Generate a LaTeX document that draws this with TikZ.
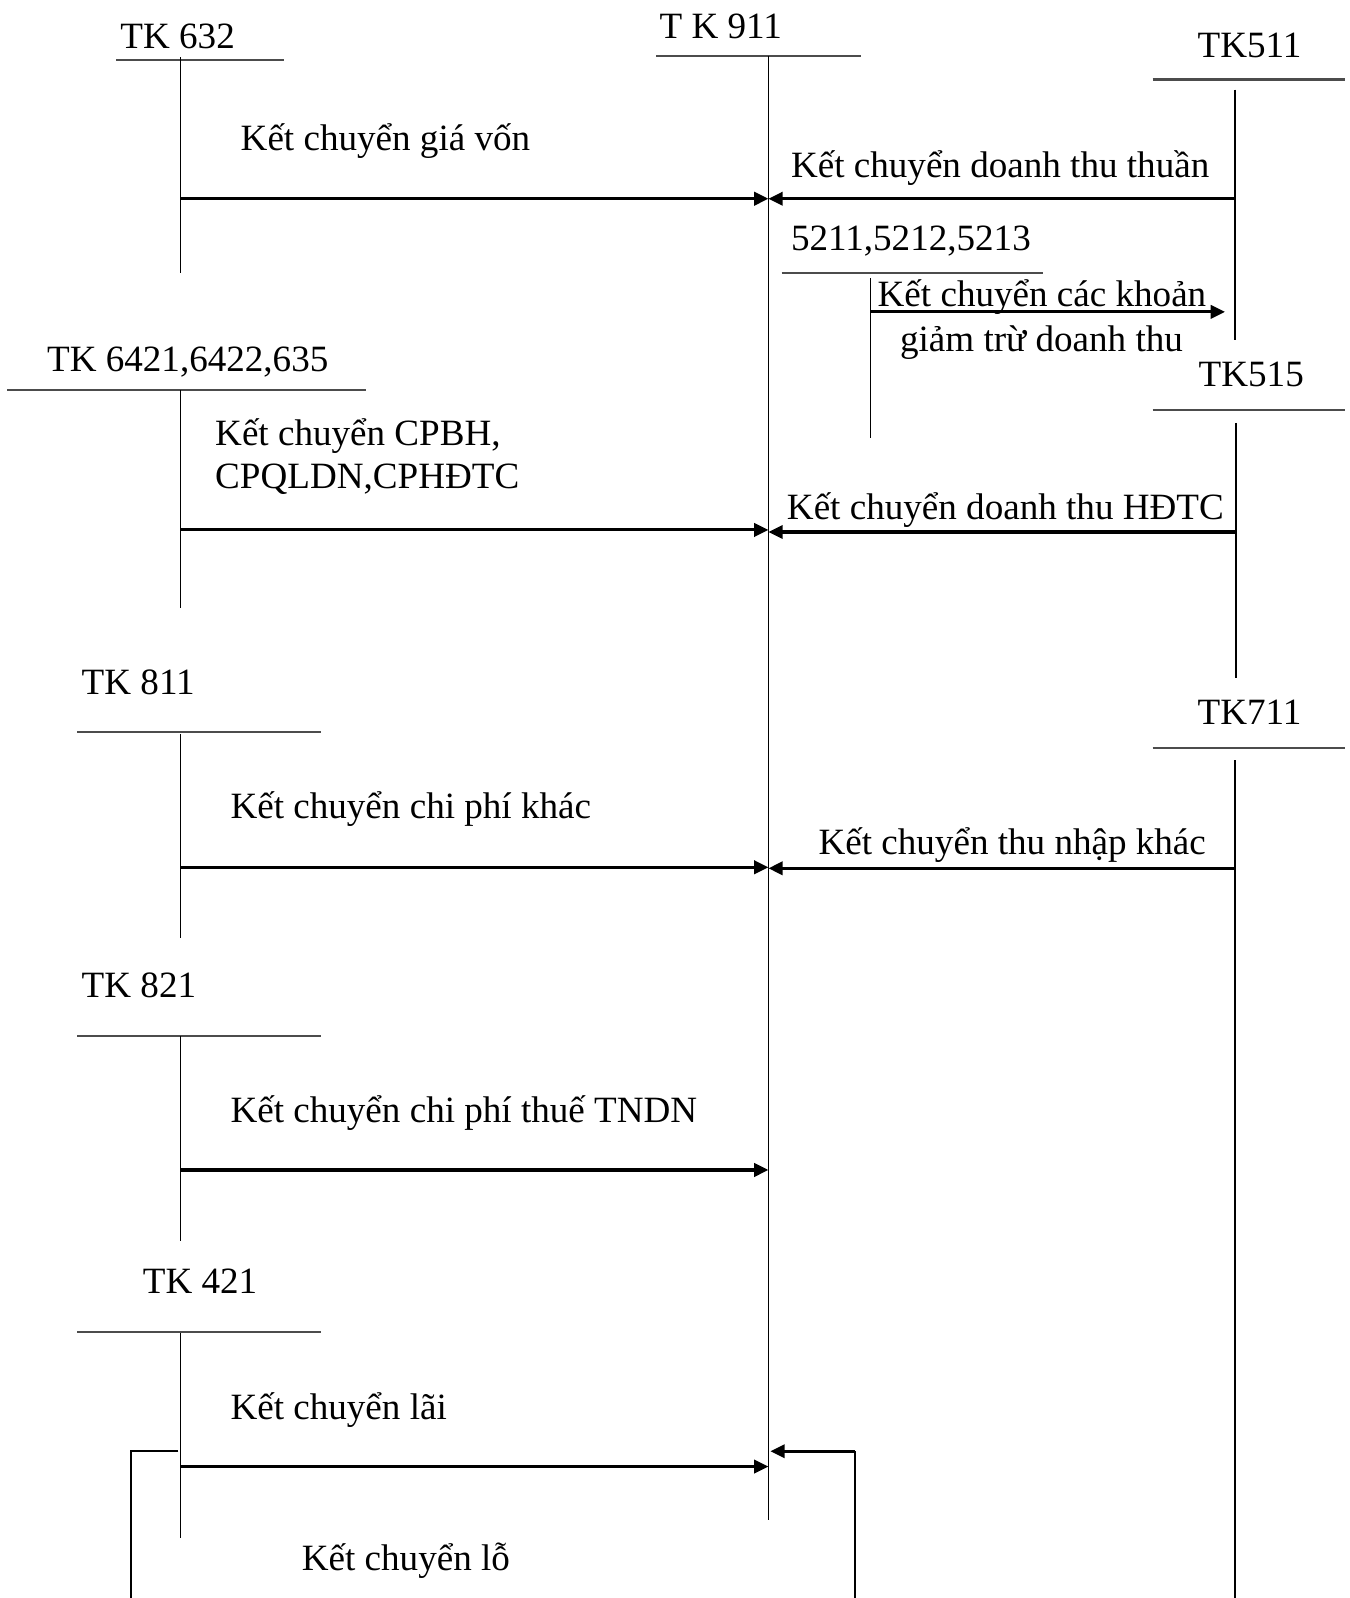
\documentclass[tikz,border=0pt]{standalone}
\usepackage{fontspec}
\setmainfont{Liberation Serif}
\usetikzlibrary{arrows.meta}
\begin{document}
\begin{tikzpicture}[x=1pt,y=-1pt,
  lbl/.style={anchor=base west,inner sep=0pt,font=\fontsize{36.4}{40}\selectfont},
  acct/.style={line width=1.5pt},
  bar/.style={line width=2pt,draw=black!70},
  flow/.style={line width=3pt,-{Triangle[length=14pt,width=13pt]}},
  ret/.style={line width=2pt},
]
\useasboundingbox (0,0) rectangle (1324,1568);

% ---- account headings ----
\node[lbl] (h632)  at (118,48)   {TK 632};
\node[lbl] (h911)  at (647,38)   {T K 911};
\node[lbl] (h511)  at (1175,56)  {TK511};
\node[lbl] (h521)  at (776,246)  {5211,5212,5213};
\node[lbl] (h642)  at (46,365)   {TK 6421,6422,635};
\node[lbl] (h515)  at (1176,379) {TK515};
\node[lbl] (h811)  at (80,681)   {TK 811};
\node[lbl] (h711)  at (1175,711) {TK711};
\node[lbl] (h821)  at (80,979)   {TK 821};
\node[lbl] (h421)  at (140,1269) {TK 421};

% ---- T-account bars and stems ----
\draw[bar]  (114,59) -- (279,59);
\draw[acct] (177,56) coordinate (t632) -- (177,268);
\draw[bar]  (644,55) -- (845,55);
\draw[acct] (754,55) coordinate (t911) -- (754,1491);
\draw[bar]  (1131,78) -- (1320,78);
\draw[acct] (1212,88) -- (1212,334);
\draw[bar]  (767,268) -- (1023,268);
\draw[acct] (854,273) -- (854,430);
\draw[bar]  (7,383) -- (359,383);
\draw[acct] (177,383) -- (177,597);
\draw[bar]  (1131,402) -- (1320,402);
\draw[acct] (1213,415) -- (1213,665);
\draw[bar]  (76,718) -- (315,718);
\draw[acct] (177,720) -- (177,920);
\draw[bar]  (1131,734) -- (1320,734);
\draw[acct] (1212,746) -- (1212,1568);
\draw[bar]  (76,1017) -- (315,1017);
\draw[acct] (177,1017) -- (177,1218);
\draw[bar]  (76,1307) -- (315,1307);
\draw[acct] (177,1308) -- (177,1509);

% ---- connector end points ----
\coordinate (a632) at (177,195);   \coordinate (d1) at (754,195);
\coordinate (a511) at (1212,195);
\coordinate (a521) at (854,306);   \coordinate (e511) at (1202,306);
\coordinate (a642) at (177,520);   \coordinate (d2) at (754,520);
\coordinate (a515) at (1213,522);  \coordinate (d3) at (754,522);
\coordinate (a811) at (177,851);   \coordinate (d4) at (754,851);
\coordinate (a711) at (1212,852);  \coordinate (d5) at (754,852);
\coordinate (a821) at (177,1148);  \coordinate (d6) at (754,1148);
\coordinate (a421) at (177,1439);  \coordinate (d7) at (754,1439);
\coordinate (l0) at (175,1424);    \coordinate (l1) at (129,1424);
\coordinate (l2) at (129,1568);    \coordinate (r0) at (839,1568);
\coordinate (r1) at (839,1424);    \coordinate (d8) at (756,1424);

% ---- transfers ----
\draw[flow] (a632) -- (d1);
\draw[flow] (a511) -- (d1);
\draw[flow] (a521) -- (e511);
\draw[flow] (a642) -- (d2);
\draw[flow] (a515) -- (d3);
\draw[flow] (a811) -- (d4);
\draw[flow] (a711) -- (d5);
\draw[flow] (a821) -- (d6);
\draw[flow] (a421) -- (d7);
\draw[ret] (l0) -- (l1) -- (l2);
\draw[ret] (r0) -- (r1);
\draw[flow] (r1) -- (d8);

% ---- transfer labels ----
\node[lbl] (k1)  at (236,148)  {Kết chuyển giá vốn};
\node[lbl] (k2)  at (776,174)  {Kết chuyển doanh thu thuần};
\node[lbl] (k3)  at (861,301)  {Kết chuyển các khoản};
\node[lbl] (k3b) at (883,345)  {giảm trừ doanh thu};
\node[lbl] (k4)  at (211,437)  {Kết chuyển CPBH,};
\node[lbl] (k4b) at (211,479)  {CPQLDN,CPHĐTC};
\node[lbl] (k5)  at (772,510)  {Kết chuyển doanh thu HĐTC};
\node[lbl] (k6)  at (226,803)  {Kết chuyển chi phí khác};
\node[lbl] (k7)  at (803,838)  {Kết chuyển thu nhập khác};
\node[lbl] (k8)  at (226,1101) {Kết chuyển chi phí thuế TNDN};
\node[lbl] (k9)  at (226,1393) {Kết chuyển lãi};
\node[lbl] (k10) at (296,1541) {Kết chuyển lỗ};
\end{tikzpicture}
\end{document}
